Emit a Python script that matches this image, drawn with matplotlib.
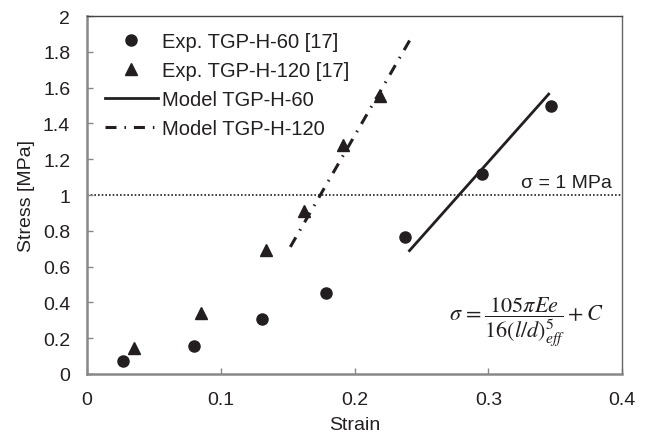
import matplotlib
matplotlib.use('Agg')
import matplotlib.pyplot as plt

plt.rcParams['font.family'] = ['Liberation Sans', 'DejaVu Sans']
plt.rcParams['mathtext.fontset'] = 'stix'

# data
strain_h60 = [0.027, 0.080, 0.131, 0.179, 0.238, 0.295, 0.347]
stress_h60 = [0.072, 0.157, 0.308, 0.450, 0.764, 1.115, 1.495]
strain_h120 = [0.035, 0.085, 0.134, 0.162, 0.191, 0.219]
stress_h120 = [0.147, 0.342, 0.690, 0.912, 1.280, 1.555]
model_h60_x = [0.241, 0.345]
model_h60_y = [0.689, 1.564]
model_h120_x = [0.152, 0.242]
model_h120_y = [0.710, 1.875]

txt = '#231f20'
fig = plt.figure(figsize=(6.53, 4.39), dpi=100)
ax = fig.add_axes([0.133, 0.146, 0.820, 0.815])

ax.axhline(1.0, color=txt, lw=1.2, ls=(0, (1, 1.2)), zorder=1)
ax.plot(strain_h60, stress_h60, 'o', color=txt, ms=8, label='Exp. TGP-H-60 [17]')
ax.plot(strain_h120, stress_h120, '^', color=txt, ms=8, label='Exp. TGP-H-120 [17]')
ax.plot(model_h60_x, model_h60_y, '-', color=txt, lw=2.0, label='Model TGP-H-60')
ax.plot(model_h120_x, model_h120_y, color=txt, lw=2.2, dashes=(3.6, 2.6, 0.5, 2.6),
        dash_capstyle='butt', label='Model TGP-H-120')

ax.text(0.3925, 1.07, '\u03c3 = 1 MPa', fontsize=14, color=txt, ha='right', va='center',
        bbox=dict(facecolor='white', edgecolor='none', pad=1))
ax.text(0.386, 0.30, r'$\sigma\,=\dfrac{105\pi Ee}{16\left(l/d\right)^{5}_{eff}}+C$',
        fontsize=16, color=txt, ha='right', va='center')

ax.set_xlim(0, 0.4)
ax.set_ylim(0, 2)
ax.set_xticks([0, 0.1, 0.2, 0.3, 0.4])
ax.set_xticklabels(['0', '0.1', '0.2', '0.3', '0.4'])
ax.set_yticks([0, 0.2, 0.4, 0.6, 0.8, 1.0, 1.2, 1.4, 1.6, 1.8, 2.0])
ax.set_yticklabels(['0', '0.2', '0.4', '0.6', '0.8', '1', '1.2', '1.4', '1.6', '1.8', '2'])
ax.tick_params(axis='both', direction='in', length=4, width=1, color='#888888',
               labelsize=14, labelcolor=txt)
ax.tick_params(axis='x', pad=12)
ax.tick_params(axis='y', pad=12)
for s in ['left', 'bottom']:
    ax.spines[s].set_color('#888888')
    ax.spines[s].set_linewidth(1.8)
ax.spines['top'].set_color('#444444')
ax.spines['right'].set_color('#666666')
ax.spines['top'].set_linewidth(1.0)
ax.spines['right'].set_linewidth(1.0)

ax.set_xlabel('Strain', fontsize=14, color=txt, labelpad=6)
ax.set_ylabel('Stress [MPa]', fontsize=14, color=txt, labelpad=6)

ax.legend(loc='upper left', bbox_to_anchor=(0.008, 0.995), frameon=False, fontsize=14.5,
          handlelength=2.6, handletextpad=0.2, labelspacing=0.5, borderaxespad=0.3,
          labelcolor=txt)

fig.savefig('out.png', dpi=100)
